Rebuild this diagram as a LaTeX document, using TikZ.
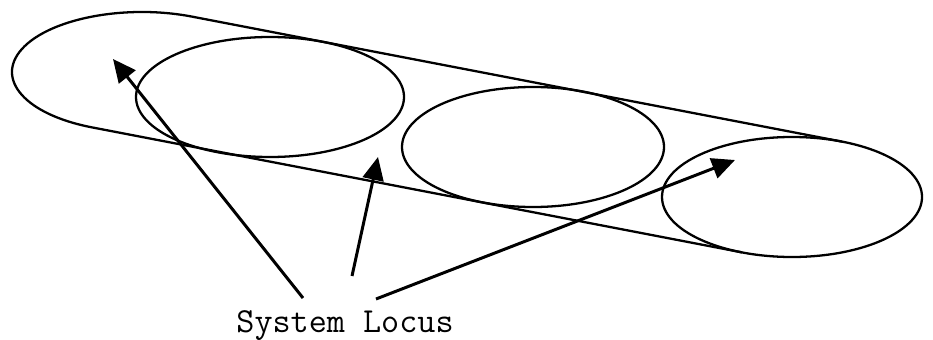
\documentclass[tikz,border=0pt]{standalone}
\usepackage{fontspec}
\usetikzlibrary{arrows.meta,calc}

\begin{document}
\begin{tikzpicture}[
        outline/.style={
            draw=black,
            line width=1.3pt
        },
        arr/.style={
            -{Triangle[length=4.6mm,width=4.2mm]},
            line width=1.7pt,
            draw=black
        },
        caption/.style={
            font=\fontsize{20}{24}\selectfont\ttfamily,
            inner sep=0pt
        }
    ]
    \useasboundingbox (0,0) rectangle (18.66,6.78);

    % =========================
    % Ellipse centres
    % =========================
    \coordinate (C1) at (2.84,5.34);
    \coordinate (C2) at (5.40,4.84);
    \coordinate (C3) at (10.66,3.84);
    \coordinate (C4) at (15.84,2.84);

    % tangent points of the tube
    \coordinate (T1) at ($(C1)+(67.4:2.6 and 1.2)$);
    \coordinate (B1) at ($(C1)+(247.4:2.6 and 1.2)$);
    \coordinate (T4) at ($(C4)+(67.4:2.6 and 1.2)$);
    \coordinate (B4) at ($(C4)+(247.4:2.6 and 1.2)$);

    % =========================
    % Tube outline
    % =========================
    \draw[outline] (T1) arc[start angle=67.4, end angle=247.4, x radius=2.6, y radius=1.2];
    \draw[outline] (T1) -- (T4);
    \draw[outline] (B1) -- (B4);

    \draw[outline] (C2) ellipse[x radius=2.68, y radius=1.2];
    \draw[outline] (C3) ellipse[x radius=2.62, y radius=1.2];
    \draw[outline] (C4) ellipse[x radius=2.6, y radius=1.2];

    % =========================
    % Label and arrows
    % =========================
    \node[caption, anchor=base] (locus) at (6.90,0.14) {System Locus};

    \coordinate (S1) at (6.06,0.82);
    \coordinate (S2) at (7.04,1.26);
    \coordinate (S3) at (7.52,0.80);
    \coordinate (P1) at (2.26,5.60);
    \coordinate (P2) at (7.56,3.64);
    \coordinate (P3) at (14.70,3.58);

    \draw[arr] (S1) -- (P1);
    \draw[arr] (S2) -- (P2);
    \draw[arr] (S3) -- (P3);

\end{tikzpicture}
\end{document}
